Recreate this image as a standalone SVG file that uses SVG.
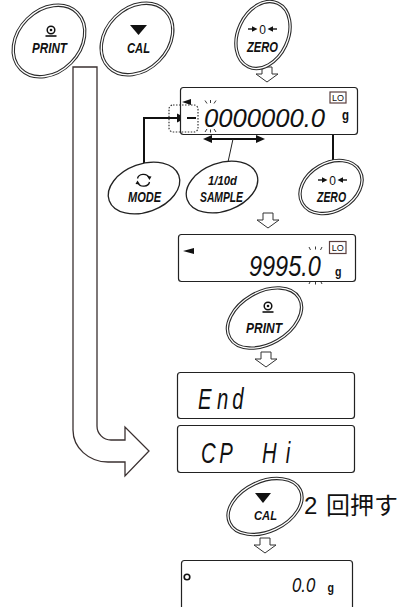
<svg xmlns="http://www.w3.org/2000/svg" width="407" height="607" viewBox="0 0 407 607">
<style>
.bg{fill:#fff}
.b2o{fill:#fff;stroke:#2a2a2a;stroke-width:3.4}
.b2i{fill:none;stroke:#fff;stroke-width:1.3}
.b1{fill:#fff;stroke:#222;stroke-width:1.3}
.lbl{font-family:"Liberation Sans",Arial,sans-serif;font-weight:bold;font-style:italic;fill:#111}
.disp{fill:#fff;stroke:#222;stroke-width:1.2}
.seg{font-family:"Liberation Sans",Arial,sans-serif;font-style:italic;fill:#111}
.unit{font-family:"Liberation Sans",Arial,sans-serif;font-weight:bold;fill:#111}
.lo{fill:#fff;stroke:#5a3f3f;stroke-width:1.2}
.lot{font-family:"Liberation Sans",Arial,sans-serif;font-size:9px;fill:#111}
.blink{stroke:#222;stroke-width:0.9;fill:none}
.conn{fill:none;stroke:#111;stroke-width:2}
.hollow{fill:#fff;stroke:#333;stroke-width:1}
.big{fill:#fff;stroke:#3a3030;stroke-width:1.3}
.jp{font-family:"Liberation Sans","Noto Sans CJK JP",sans-serif;font-size:24px;fill:#111}
</style>
<defs>
<path id="down" d="M-5,0 H5 V7 H11 L0,15 L-11,7 H-5 Z"/>
</defs>
<rect class="bg" x="0" y="0" width="407" height="607"/>

<g id="connectors">
  <path class="big" d="M73,67 H97 V426 A14,14 0 0 0 111,440 H125 V427 L149,451 L125,476 V462 H108 A35,32 0 0 1 73,430 Z"/>
  <use href="#down" class="hollow" transform="translate(267,67)"/>
  <use href="#down" class="hollow" transform="translate(268,213)"/>
  <use href="#down" class="hollow" transform="translate(266,352)"/>
  <use href="#down" class="hollow" transform="translate(265,538)"/>
  <polyline class="conn" points="144,164 144,118 178,118"/>
  <polygon points="177,113.5 186,118 177,122.5" fill="#111"/>
  <line class="conn" x1="211" y1="139" x2="257" y2="139"/>
  <polygon points="212,135 203,139 212,143" fill="#111"/>
  <polygon points="256,135 265,139 256,143" fill="#111"/>
  <line x1="233" y1="139" x2="228" y2="162" stroke="#222" stroke-width="1"/>
  <polyline class="conn" points="333,162 333,112 325,112 325,100"/>
  <polygon points="321,102 325,93 329,102" fill="#111"/>
</g>

<g id="print-top">
  <ellipse class="b2o" cx="49" cy="41" rx="40" ry="31" transform="rotate(-45 49 41)"/>
  <ellipse class="b2i" cx="49" cy="41" rx="40" ry="31" transform="rotate(-45 49 41)"/>
  <circle cx="51" cy="30" r="3.8" fill="none" stroke="#111" stroke-width="1.5"/>
  <circle cx="51" cy="30" r="1.3" fill="#111"/>
  <line x1="45.5" y1="36" x2="56.5" y2="36" stroke="#111" stroke-width="1.6"/>
  <text class="lbl" x="32" y="52.5" font-size="15.5" textLength="35" lengthAdjust="spacingAndGlyphs">PRINT</text>
</g>

<g id="cal-top">
  <ellipse class="b2o" cx="137" cy="39" rx="40" ry="31" transform="rotate(-45 137 39)"/>
  <ellipse class="b2i" cx="137" cy="39" rx="40" ry="31" transform="rotate(-45 137 39)"/>
  <polygon points="130,25 147,25 138.5,35" fill="#111"/>
  <text class="lbl" x="127" y="52.5" font-size="15.5" textLength="23" lengthAdjust="spacingAndGlyphs">CAL</text>
</g>

<g id="zero-top">
  <ellipse class="b2o" cx="263" cy="35" rx="35" ry="25" transform="rotate(-65 263 35)"/>
  <ellipse class="b2i" cx="263" cy="35" rx="35" ry="25" transform="rotate(-65 263 35)"/>
  <line x1="248" y1="29" x2="253" y2="29" stroke="#111" stroke-width="1.4"/>
  <polygon points="252,26.3 257.5,29 252,31.7" fill="#111"/>
  <line x1="277" y1="29" x2="272" y2="29" stroke="#111" stroke-width="1.4"/>
  <polygon points="273,26.3 267.5,29 273,31.7" fill="#111"/>
  <text x="262.5" y="33.5" font-family="Liberation Sans,Arial,sans-serif" font-size="12" text-anchor="middle" fill="#111">0</text>
  <text class="lbl" x="247" y="51.5" font-size="15.5" textLength="31" lengthAdjust="spacingAndGlyphs">ZERO</text>
</g>

<g id="display-1">
  <rect class="disp" x="180.5" y="87.5" width="177" height="47" rx="3"/>
  <rect x="169" y="105" width="29" height="27" rx="4" fill="none" stroke="#333" stroke-width="1.2" stroke-dasharray="1.5 1.5"/>
  <polygon points="191,99 182,102 191,105" fill="#111"/>
  <line x1="187" y1="118" x2="196" y2="118" stroke="#111" stroke-width="2"/>
  <path class="blink" d="M205,100.5 L207,103.5 M210.5,100 L210.5,103 M216,100.5 L214,103.5 M205,132 L207,129 M210.5,132.5 L210.5,129.5 M216,132 L214,129"/>
  <text class="seg" x="204" y="127" font-size="25" textLength="121" lengthAdjust="spacingAndGlyphs">0000000.0</text>
  <rect class="lo" x="330" y="92" width="16" height="11"/>
  <text class="lot" x="338" y="101" text-anchor="middle">LO</text>
  <text class="unit" x="342" y="120" font-size="14" textLength="7" lengthAdjust="spacingAndGlyphs">g</text>
</g>

<g id="mode">
  <ellipse class="b1" cx="144" cy="188" rx="37" ry="24" transform="rotate(-20 144 188)"/>
  <path d="M137.5,178.5 A6,5 0 0 1 149,177.5" fill="none" stroke="#111" stroke-width="1.3"/>
  <polygon points="147,176 151.5,176.5 149.5,180" fill="#111"/>
  <path d="M149.5,182 A6,5 0 0 1 138,183" fill="none" stroke="#111" stroke-width="1.3"/>
  <polygon points="140,184.5 135.5,184 137.5,180.5" fill="#111"/>
  <text class="lbl" x="128" y="201.5" font-size="14" textLength="33" lengthAdjust="spacingAndGlyphs">MODE</text>
</g>

<g id="sample">
  <ellipse class="b1" cx="222" cy="187" rx="37" ry="24" transform="rotate(-20 222 187)"/>
  <text class="lbl" x="208" y="185" font-size="13" textLength="29" lengthAdjust="spacingAndGlyphs" font-style="normal">1/10d</text>
  <text class="lbl" x="200" y="201.5" font-size="14" textLength="43" lengthAdjust="spacingAndGlyphs">SAMPLE</text>
</g>

<g id="zero-bottom">
  <ellipse class="b2o" cx="331" cy="187" rx="33" ry="24" transform="rotate(-30 331 187)"/>
  <ellipse class="b2i" cx="331" cy="187" rx="33" ry="24" transform="rotate(-30 331 187)"/>
  <line x1="318" y1="180" x2="323" y2="180" stroke="#111" stroke-width="1.4"/>
  <polygon points="322,177.3 327.5,180 322,182.7" fill="#111"/>
  <line x1="347" y1="180" x2="342" y2="180" stroke="#111" stroke-width="1.4"/>
  <polygon points="343,177.3 337.5,180 343,182.7" fill="#111"/>
  <text x="332.5" y="184.5" font-family="Liberation Sans,Arial,sans-serif" font-size="12" text-anchor="middle" fill="#111">0</text>
  <text class="lbl" x="317" y="201.5" font-size="14" textLength="29" lengthAdjust="spacingAndGlyphs">ZERO</text>
</g>

<g id="display-2">
  <rect class="disp" x="178.5" y="234.5" width="177" height="47" rx="3"/>
  <polygon points="194,248 183,251 194,254" fill="#111"/>
  <path class="blink" d="M309,247 L310.5,250 M315.5,246.5 L315.5,249.5 M322,247 L320.5,250 M309,284 L310.5,281 M315.5,284.5 L315.5,281.5 M322,284 L320.5,281"/>
  <text class="seg" transform="translate(249,276) scale(0.81,1)" font-size="29">9995.0</text>
  <rect class="lo" x="329.5" y="241.5" width="16.5" height="12"/>
  <text class="lot" x="337.8" y="251" text-anchor="middle">LO</text>
  <text class="unit" x="335" y="276" font-size="13" textLength="6.5" lengthAdjust="spacingAndGlyphs">g</text>
</g>

<g id="print-mid">
  <ellipse class="b2o" cx="264.5" cy="318" rx="40" ry="26" transform="rotate(-30 264.5 318)"/>
  <ellipse class="b2i" cx="264.5" cy="318" rx="40" ry="26" transform="rotate(-30 264.5 318)"/>
  <circle cx="268" cy="306" r="3.8" fill="none" stroke="#111" stroke-width="1.5"/>
  <circle cx="268" cy="306" r="1.3" fill="#111"/>
  <line x1="262.5" y1="312" x2="273.5" y2="312" stroke="#111" stroke-width="1.6"/>
  <text class="lbl" x="246" y="332.5" font-size="15.5" textLength="36" lengthAdjust="spacingAndGlyphs">PRINT</text>
</g>

<g id="display-end">
  <rect class="disp" x="177.5" y="372.5" width="177" height="46" rx="3"/>
  <text class="seg" transform="translate(198,409) scale(0.7,1)" font-size="29"><tspan x="0">E</tspan><tspan x="27">n</tspan><tspan x="49">d</tspan></text>
</g>

<g id="display-cphi">
  <rect class="disp" x="177.5" y="425.5" width="177" height="47" rx="3"/>
  <text class="seg" transform="translate(201,463) scale(0.7,1)" font-size="29"><tspan x="0">C</tspan><tspan x="26">P </tspan><tspan x="87">H</tspan><tspan x="121">i</tspan></text>
</g>

<g id="cal-bottom">
  <ellipse class="b2o" cx="265" cy="506.5" rx="39" ry="25" transform="rotate(-25 265 506.5)"/>
  <ellipse class="b2i" cx="265" cy="506.5" rx="39" ry="25" transform="rotate(-25 265 506.5)"/>
  <polygon points="255,493 271,493 263,503" fill="#111"/>
  <text class="lbl" x="254" y="519.5" font-size="13.5" textLength="23" lengthAdjust="spacingAndGlyphs">CAL</text>
  <text class="jp" x="304" y="514">2 <tspan x="326">回押す</tspan></text>
</g>

<g id="display-zero">
  <rect class="disp" x="181.5" y="560.5" width="171" height="52" rx="3"/>
  <circle cx="187" cy="577" r="2.8" fill="none" stroke="#111" stroke-width="1.6"/>
  <text class="seg" transform="translate(292,592) scale(0.8,1)" font-size="21">0.0</text>
  <text class="unit" x="327.5" y="592" font-size="13" textLength="6.5" lengthAdjust="spacingAndGlyphs">g</text>
</g>
</svg>
